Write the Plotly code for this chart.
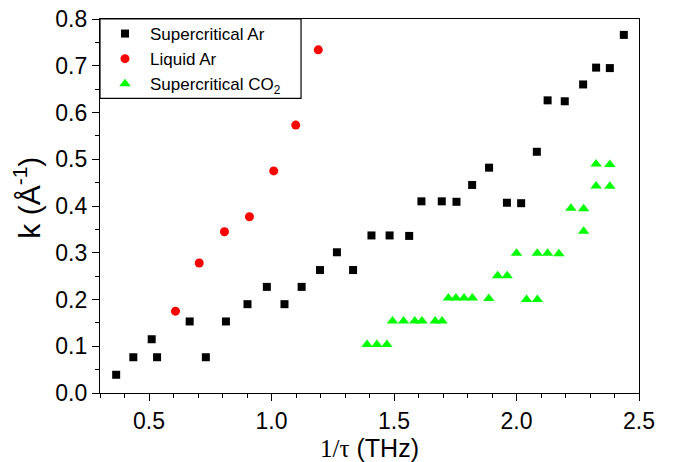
import plotly.graph_objects as go

# Supercritical Ar
ar_sc_x = [0.366, 0.436, 0.511, 0.533, 0.666, 0.732, 0.814, 0.902, 0.981, 1.053,
           1.123, 1.198, 1.267, 1.333, 1.408, 1.482, 1.562, 1.612, 1.695, 1.755,
           1.819, 1.888, 1.961, 2.019, 2.083, 2.127, 2.197, 2.272, 2.325, 2.381, 2.438]
ar_sc_y = [0.039, 0.0765, 0.115, 0.0765, 0.153, 0.0765, 0.153, 0.19, 0.227, 0.19,
           0.227, 0.263, 0.301, 0.263, 0.337, 0.337, 0.336, 0.41, 0.41, 0.409,
           0.445, 0.482, 0.407, 0.406, 0.516, 0.626, 0.624, 0.66, 0.696, 0.695, 0.766]

# Liquid Ar
ar_liq_x = [0.608, 0.705, 0.808, 0.910, 1.009, 1.099, 1.191]
ar_liq_y = [0.175, 0.278, 0.345, 0.377, 0.475, 0.573, 0.734]

# Supercritical CO2
co2_x = [1.39, 1.43, 1.471, 1.494, 1.539, 1.585, 1.614, 1.668, 1.696,
         1.722, 1.753, 1.786, 1.82, 1.887, 1.923, 1.962, 2.0, 2.041, 2.085,
         2.085, 2.127, 2.173, 2.222, 2.274, 2.274, 2.325, 2.381, 2.325, 2.381]
co2_y = [0.104, 0.104, 0.104, 0.154, 0.154, 0.154, 0.154, 0.154, 0.154,
         0.203, 0.203, 0.203, 0.203, 0.202, 0.251, 0.251, 0.299, 0.2, 0.2,
         0.299, 0.299, 0.298, 0.395, 0.394, 0.346, 0.443, 0.442, 0.49, 0.489]

fig = go.Figure()
fig.add_trace(go.Scatter(x=ar_sc_x, y=ar_sc_y, mode="markers", name="Supercritical Ar",
                         marker=dict(symbol="square", size=8, color="black")))
fig.add_trace(go.Scatter(x=ar_liq_x, y=ar_liq_y, mode="markers", name="Liquid Ar",
                         marker=dict(symbol="circle", size=9, color="#ff0000")))
fig.add_trace(go.Scatter(x=co2_x, y=co2_y, mode="markers", name="Supercritical CO<sub>2</sub>",
                         marker=dict(symbol="triangle-up", size=10, color="#00ff00")))

axis_common = dict(showline=True, linecolor="black", linewidth=1.3, mirror=True,
                   showgrid=False, zeroline=False, ticks="outside", tickcolor="black",
                   ticklen=7, tickwidth=1.2, automargin=False, ticklabeloverflow="allow",
                   tickfont=dict(family="Arial, Liberation Sans", size=23, color="black"))

# page body has an 8px default margin, so the figure is 8px smaller than the window
fig.update_layout(
    width=676, height=454,
    margin=dict(l=92, r=45, t=8, b=69),
    paper_bgcolor="white", plot_bgcolor="white",
    font=dict(family="Arial, Liberation Sans", color="black"),
    xaxis=dict(range=[0.3, 2.5000001], dtick=0.5, tick0=0, tickformat=".1f",
               minor=dict(dtick=0.1, ticks="outside", ticklen=4, tickcolor="black"),
               title=dict(text="<span style='font-family:Liberation Serif'>1/τ</span> (THz)",
                          font=dict(size=25), standoff=7),
               **axis_common),
    yaxis=dict(range=[0.0, 0.8000001], dtick=0.1, tick0=0, tickformat=".1f",
               minor=dict(dtick=0.05, ticks="outside", ticklen=4, tickcolor="black"),
               title=dict(text="&nbsp;&nbsp;k (Å<sup>-1</sup>)", font=dict(size=30), standoff=12),
               **axis_common),
    legend=dict(x=0.0, y=1.008, xanchor="left", yanchor="top",
                borderwidth=0, bgcolor="rgba(0,0,0,0)", itemwidth=40,
                font=dict(size=17, color="black"), tracegroupgap=0),
    shapes=[dict(type="rect", xref="paper", yref="paper",
                 x0=0.0, x1=0.373, y0=0.788, y1=1.0,
                 line=dict(color="black", width=1.2), layer="above")],
)

fig.write_html("out.html")
